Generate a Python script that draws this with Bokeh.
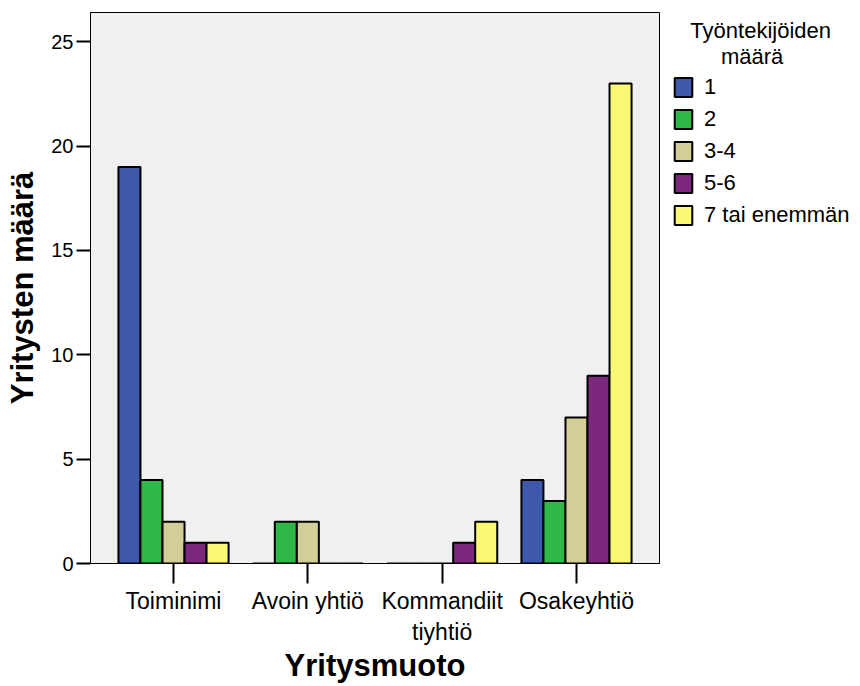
from bokeh.plotting import figure
from bokeh.models import Range1d, FixedTicker, Legend, LegendItem, ColumnDataSource
from bokeh.embed import file_html
from bokeh.resources import INLINE

categories = ["Toiminimi", "Avoin yhtiö", "Kommandiit\ntiyhtiö", "Osakeyhtiö"]
series_names = ["1", "2", "3-4", "5-6", "7 tai enemmän"]
s1 = [19, 0, 0, 4]
s2 = [4, 2, 0, 3]
s34 = [2, 2, 0, 7]
s56 = [1, 0, 1, 9]
s7 = [1, 0, 2, 23]
colors = ["#3E58AC", "#2EB848", "#D3CE97", "#7C287D", "#FBF873"]
legend_title_lines = ["Työntekijöiden", "määrä"]

FONT = "Liberation Sans"
series = [s1, s2, s34, s56, s7]

p = figure(frame_width=569, frame_height=551, output_backend="svg", toolbar_location=None,
           x_range=Range1d(-0.618, 3.618), y_range=Range1d(0, 26.4),
           min_border_left=90, min_border_right=0, min_border_top=12, min_border_bottom=110)
p.background_fill_color = "#F0F0F0"
p.border_fill_color = "white"
p.outline_line_color = "black"
p.outline_line_width = 1
p.xgrid.visible = False
p.ygrid.visible = False

bw = 0.164
items = []
for i, (name, vals, col) in enumerate(zip(series_names, series, colors)):
    xs = [k + (i - 2) * bw for k in range(len(categories))]
    src = ColumnDataSource(dict(x=xs, top=vals))
    r = p.vbar(x="x", top="top", width=bw, source=src, fill_color=col,
               line_color="black", line_width=2)
    items.append(LegendItem(label=name, renderers=[r]))

p.xaxis.ticker = FixedTicker(ticks=list(range(len(categories))))
p.xaxis.major_label_overrides = {k: c for k, c in enumerate(categories)}
p.xaxis.major_tick_out = 20
p.xaxis.major_tick_in = 0
p.xaxis.major_tick_line_width = 2
p.xaxis.minor_tick_line_color = None
p.xaxis.major_label_text_font = FONT
p.xaxis.major_label_text_font_size = "23px"
p.xaxis.major_label_text_color = "black"
p.xaxis.major_label_standoff = 4
p.xaxis.axis_label = "Yritysmuoto"
p.xaxis.axis_label_text_font = FONT
p.xaxis.axis_label_text_font_size = "31px"
p.xaxis.axis_label_text_font_style = "bold"
p.xaxis.axis_label_text_color = "black"
p.xaxis.axis_label_standoff = 0
p.xaxis.axis_line_color = "black"

p.yaxis.ticker = FixedTicker(ticks=[0, 5, 10, 15, 20, 25])
p.yaxis.major_tick_out = 14
p.yaxis.major_tick_in = 0
p.yaxis.major_tick_line_width = 2
p.yaxis.minor_tick_line_color = None
p.yaxis.major_label_text_font = FONT
p.yaxis.major_label_text_font_size = "20px"
p.yaxis.major_label_text_color = "black"
p.yaxis.major_label_standoff = 3
p.yaxis.axis_label = "Yritysten määrä"
p.yaxis.axis_label_text_font = FONT
p.yaxis.axis_label_text_font_size = "31px"
p.yaxis.axis_label_text_font_style = "bold"
p.yaxis.axis_label_text_color = "black"
p.yaxis.axis_label_standoff = 8
p.yaxis.axis_line_color = "black"

NB = "\u00a0"
legend_title = NB * 3 + legend_title_lines[0] + "\n" + NB * 8 + legend_title_lines[1]

legend = Legend(items=items, location=(5, 327), padding=8, margin=0,
                title=legend_title,
                border_line_alpha=0, background_fill_alpha=0,
                glyph_width=22, glyph_height=24, label_standoff=10, spacing=6,
                label_text_font=FONT, label_text_font_size="22px", label_text_color="black",
                title_text_font=FONT, title_text_font_size="22px", title_text_color="black",
                title_text_font_style="normal", title_standoff=4)
p.add_layout(legend, "right")

open("out.html", "w").write(file_html(p, INLINE))
